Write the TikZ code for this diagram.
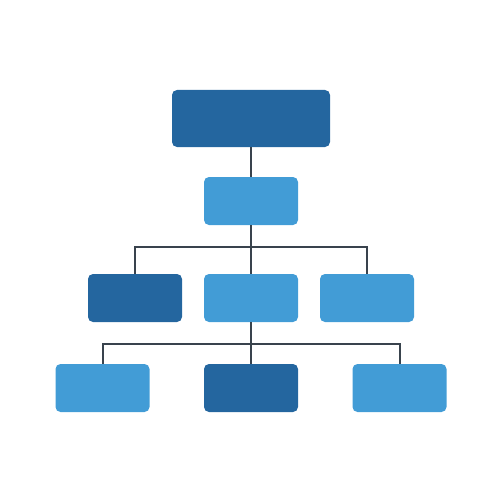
\documentclass[tikz,border=0pt]{standalone}
\usepackage{tikz}

\definecolor{darkblue}{HTML}{24669F}
\definecolor{lightblue}{HTML}{429CD6}
\definecolor{linegray}{HTML}{39434D}

\begin{document}
\begin{tikzpicture}[
       edge from parent path=
    {(\tikzparentnode.south) -- ++(0,-22pt) -| (\tikzchildnode.north)},
    edge from parent/.style={draw=linegray,line width=2pt},
    level 1/.style={level distance=82.5pt},
    level 2/.style={level distance=97pt,sibling distance=116pt},
    level 3/.style={level distance=90pt,sibling distance=148.5pt},
   every node/.style={rounded corners=5pt,inner sep=0pt,
       minimum width=94pt,minimum height=48pt},
   dark/.style={fill=darkblue},
   light/.style={fill=lightblue}]

\useasboundingbox (0,0) rectangle (500pt,-500pt);

\node[dark,minimum width=158pt,minimum height=57pt] (head) at (251pt,-118.5pt) {}
    child {node[light] (deputy) {}
        child {node[dark] (left) {}}
        child {node[light] (center) {}
            child {node[light] (low left) {}}
            child {node[dark] (low center) {}}
            child {node[light] (low right) {}}
        }
        child {node[light] (right) {}}
    };

\end{tikzpicture}
\end{document}
